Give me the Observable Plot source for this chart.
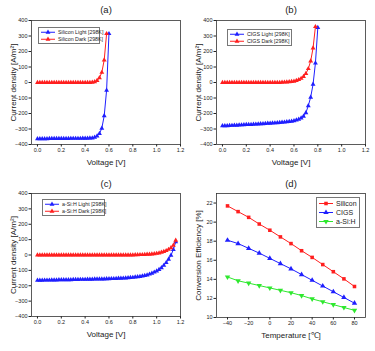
<!DOCTYPE html>
<html><head><meta charset="utf-8">
<script src="https://cdn.jsdelivr.net/npm/d3@7"></script>
<script src="https://cdn.jsdelivr.net/npm/@observablehq/plot@0.6"></script>
<style>
body{margin:0;background:#fff;}
#root{position:relative;width:375px;height:351px;overflow:hidden;background:#fff;font-family:"Liberation Sans",Arial,sans-serif;}
.panel{position:absolute;}
.legend{position:absolute;border:0.8px solid #777;background:#fff;box-sizing:border-box;color:#222;}
.legend .row{display:flex;align-items:center;white-space:nowrap;}
.legend svg{flex:none;}
</style></head><body><div id="root"></div><script>
// ---------- data ----------
const siVolt = [0,0.02,0.04,0.06,0.08,0.10,0.12,0.14,0.16,0.18,0.20,0.22,0.24,0.26,0.28,0.30,0.32,0.34,0.36,0.38,0.40,0.42,0.44,0.46,0.48,0.50,0.52,0.54,0.56,0.58,0.60];
const siLight = [-363,-363,-363,-363,-363,-362,-362,-362,-362,-362,-362,-362,-362,-362,-361,-361,-361,-361,-361,-360,-360,-360,-359,-358,-354,-346,-330,-295,-215,-50,315];
const siDark = [0,0,0,0,0,0,0,0,0,0,0,0,0,0,0,0,0,0,0,0,0,0,0,1,4,12,30,65,145,315];

const cigsVolt = [0,0.02,0.04,0.06,0.08,0.10,0.12,0.14,0.16,0.18,0.20,0.22,0.24,0.26,0.28,0.30,0.32,0.34,0.36,0.38,0.40,0.42,0.44,0.46,0.48,0.50,0.52,0.54,0.56,0.58,0.60,0.62,0.64,0.66,0.68,0.70,0.72,0.74,0.76,0.78,0.80];
const cigsLight = [-280,-279,-279,-278,-277,-276,-276,-275,-274,-273,-272,-272,-271,-270,-269,-268,-267,-266,-265,-264,-263,-262,-261,-260,-258,-257,-256,-254,-252,-250,-247,-243,-238,-230,-218,-195,-150,-95,-12,125,355];
const cigsDark = [0,0,0,0,0,0,0,0,0,0,0,0,0,0,0,0,0,0,0,0,0,0,0,0,0,1,2,3,4,6,8,12,18,26,38,57,89,138,222,360];

const asiVolt = [0,0.02,0.04,0.06,0.08,0.10,0.12,0.14,0.16,0.18,0.20,0.22,0.24,0.26,0.28,0.30,0.32,0.34,0.36,0.38,0.40,0.42,0.44,0.46,0.48,0.50,0.52,0.54,0.56,0.58,0.60,0.62,0.64,0.66,0.68,0.70,0.72,0.74,0.76,0.78,0.80,0.82,0.84,0.86,0.88,0.90,0.92,0.94,0.96,0.98,1.00,1.02,1.04,1.06,1.08,1.10,1.12,1.14,1.16];
const asiLight = [-165,-165,-165,-164,-164,-164,-163,-163,-163,-162,-162,-162,-161,-161,-161,-160,-160,-160,-159,-159,-159,-158,-158,-158,-157,-157,-157,-156,-156,-155,-155,-154,-154,-153,-152,-152,-151,-150,-148,-147,-146,-144,-142,-140,-137,-134,-130,-125,-119,-112,-104,-95,-83,-68,-50,-28,-2,35,85];
const asiDark = [0,0,0,0,0,0,0,0,0,0,0,0,0,0,0,0,0,0,0,0,0,0,0,0,0,0,0,0,0,0,0,0,0,0,0,0,0,0,0,0,0,1,1,2,2,3,4,5,6,8,10,13,17,22,28,36,47,63,95];

const temps = [-40,-30,-20,-10,0,10,20,30,40,50,60,70,80];
const effSilicon = [21.7,21.1,20.5,19.8,19.15,18.45,17.75,17.0,16.3,15.55,14.8,14.05,13.25];
const effCIGS = [18.1,17.75,17.25,16.75,16.2,15.65,15.1,14.5,13.9,13.3,12.7,12.1,11.5];
const effASi = [14.25,13.85,13.6,13.35,13.1,12.85,12.6,12.3,11.95,11.65,11.35,11.05,10.75];

const voltTicks = [0,0.2,0.4,0.6,0.8,1.0,1.2];
const currentTicks = [-400,-300,-200,-100,0,100,200,300,400];
const tempTicks = [-40,-20,0,20,40,60,80];
const effTicks = [10,12,14,16,18,20,22];

// ---------- helpers ----------
const FONT = '"Liberation Sans", Arial, sans-serif';
const BLUE = "#1f1fff", RED = "#ff1f1f", GREEN = "#2ee82e";
const triDown = {draw(ctx, size){ const t = d3.symbolTriangle; ctx.save?.(); 
  // draw an inverted triangle
  const y = -Math.sqrt(size / (3 * Math.sqrt(3)));
  const x = Math.sqrt(size / (3 * Math.sqrt(3))) * Math.sqrt(3);
  ctx.moveTo(0, -2*y); ctx.lineTo(-x, y); ctx.lineTo(x, y); ctx.closePath(); }};

function series(xs, ys, color, symbol, r){
  const data = xs.slice(0, ys.length).map((x,i)=>({x, y: ys[i]}));
  return [
    Plot.line(data, {x:"x", y:"y", stroke: color, strokeWidth: 1}),
    Plot.dot(data, {x:"x", y:"y", fill: color, stroke: "none", symbol, r})
  ];
}

function panel(cfg){
  const p = Plot.plot({
    width: cfg.w, height: cfg.h,
    marginTop: cfg.mt, marginBottom: cfg.mb, marginLeft: 31, marginRight: 7,
    style: {fontFamily: FONT, fontSize: "5.5px", background: "transparent", color: "#222"},
    x: {domain: cfg.xDomain},
    y: {domain: cfg.yDomain},
    marks: [
      Plot.axisX({ticks: cfg.xTicks, tickFormat: cfg.xFmt, tickSize: 2.5, tickPadding: 1.5, label: null, fontSize: 5.5}),
      Plot.axisY({ticks: cfg.yTicks, tickFormat: cfg.yFmt, tickSize: 2.5, tickPadding: 1.5, label: null, fontSize: 5.5}),
      ...cfg.marks,
      Plot.frame({stroke: "#333", strokeWidth: 0.8}),
      Plot.text([cfg.title], {text: d=>d, frameAnchor: "top", dy: -cfg.titleDy, lineAnchor: "middle", textAnchor: "middle", fontSize: 9.5}),
      Plot.text([cfg.xLabel], {text: d=>d, frameAnchor: "bottom", dy: 18, lineAnchor: "middle", textAnchor: "middle", fontSize: 8}),
      Plot.text([cfg.yLabel], {text: d=>d, frameAnchor: "left", dx: -18, rotate: -90, lineAnchor: "middle", textAnchor: "middle", fontSize: 8})
    ]
  });
  p.classList.add("panel");
  p.style.left = cfg.left + "px";
  p.style.top = cfg.top + "px";
  return p;
}

function legend(items, left, top, width, rowH, fontSize, symR){
  const div = document.createElement("div");
  div.className = "legend";
  Object.assign(div.style, {left: left+"px", top: top+"px", width: width+"px", padding: "1px 0", fontSize: fontSize+"px", lineHeight: rowH+"px"});
  for (const it of items){
    const row = document.createElement("div");
    row.className = "row";
    row.style.height = rowH + "px";
    const sw = 18;
    const svg = d3.create("svg").attr("width", sw).attr("height", rowH);
    svg.append("line").attr("x1", 2).attr("x2", sw-2).attr("y1", rowH/2).attr("y2", rowH/2).attr("stroke", it.color).attr("stroke-width", 1);
    svg.append("path").attr("transform", `translate(${sw/2},${rowH/2})`).attr("fill", it.color)
      .attr("d", d3.symbol(it.symbol, Math.PI*symR*symR)());
    row.appendChild(svg.node());
    const span = document.createElement("span");
    span.textContent = it.label;
    span.style.marginLeft = "1px";
    row.appendChild(span);
    div.appendChild(row);
  }
  return div;
}

const root = document.getElementById("root");
const vFmt = d => d.toFixed(1);

root.appendChild(panel({
  left: 0, top: 0, w: 187, h: 170, mt: 20, mb: 26, titleDy: 11,
  xDomain: [-0.05, 1.2], yDomain: [-400, 400], xTicks: voltTicks, xFmt: vFmt, yTicks: currentTicks,
  title: "(a)", xLabel: "Voltage [V]", yLabel: "Current density [A/m²]",
  marks: [...series(siVolt, siLight, BLUE, "triangle", 1.8), ...series(siVolt, siDark, RED, "triangle", 1.8)]
}));
root.appendChild(panel({
  left: 185, top: 0, w: 187, h: 170, mt: 20, mb: 26, titleDy: 11,
  xDomain: [-0.05, 1.2], yDomain: [-400, 400], xTicks: voltTicks, xFmt: vFmt, yTicks: currentTicks,
  title: "(b)", xLabel: "Voltage [V]", yLabel: "Current density [A/m²]",
  marks: [...series(cigsVolt, cigsLight, BLUE, "triangle", 1.8), ...series(cigsVolt, cigsDark, RED, "triangle", 1.8)]
}));
root.appendChild(panel({
  left: 0, top: 170, w: 187, h: 181, mt: 23, mb: 35, titleDy: 10,
  xDomain: [-0.05, 1.2], yDomain: [-400, 400], xTicks: voltTicks, xFmt: vFmt, yTicks: currentTicks,
  title: "(c)", xLabel: "Voltage [V]", yLabel: "Current density [A/m²]",
  marks: [...series(asiVolt, asiLight, BLUE, "triangle", 1.8), ...series(asiVolt, asiDark, RED, "triangle", 1.8)]
}));
root.appendChild(panel({
  left: 185, top: 170, w: 187, h: 181, mt: 23, mb: 34, titleDy: 10,
  xDomain: [-50.4, 90.4], yDomain: [10, 23], xTicks: tempTicks, yTicks: effTicks,
  title: "(d)", xLabel: "Temperature [℃]", yLabel: "Conversion Efficiency [%]",
  marks: [...series(temps, effSilicon, RED, "square", 2.0), ...series(temps, effCIGS, BLUE, "triangle", 2.0), ...series(temps, effASi, GREEN, triDown, 2.0)]
}));

root.appendChild(legend([{label:"Silicon Light [298K]", color:BLUE, symbol:d3.symbolTriangle},{label:"Silicon Dark [298K]", color:RED, symbol:d3.symbolTriangle}], 38, 27, 62, 6.5, 5.3, 1.8));
root.appendChild(legend([{label:"CIGS Light [298K]", color:BLUE, symbol:d3.symbolTriangle},{label:"CIGS Dark [298K]", color:RED, symbol:d3.symbolTriangle}], 227, 29, 65, 6.5, 5.3, 1.8));
root.appendChild(legend([{label:"a-Si:H Light [298K]", color:BLUE, symbol:d3.symbolTriangle},{label:"a-Si:H Dark [298K]", color:RED, symbol:d3.symbolTriangle}], 42, 199, 63, 6.5, 5.3, 1.8));
root.appendChild(legend([{label:"Silicon", color:RED, symbol:d3.symbolSquare},{label:"CIGS", color:BLUE, symbol:d3.symbolTriangle},{label:"a-Si:H", color:GREEN, symbol:triDown}], 316, 197, 44, 9, 7, 2.0));
</script></body></html>
